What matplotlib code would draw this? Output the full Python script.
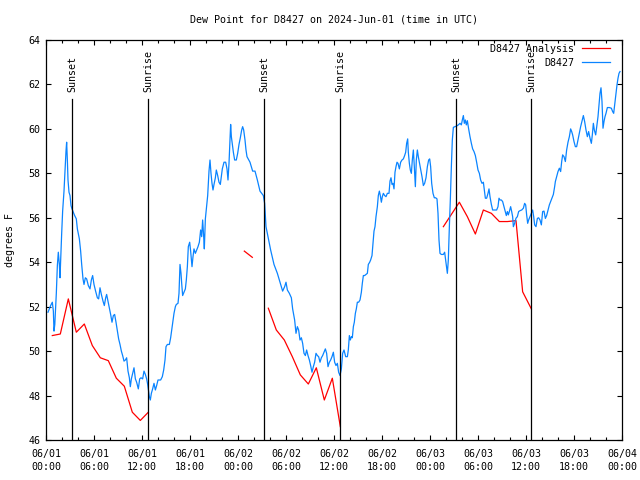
import numpy as np
import pandas as pd
import matplotlib
matplotlib.use('Agg')
import matplotlib.pyplot as plt
import matplotlib.dates as mdates

plt.rcParams['font.family'] = ['DejaVu Sans Mono']
plt.rcParams['font.size'] = 7.2

start = pd.Timestamp('2024-06-01 00:00')

# D8427 observations: hours after start, dew point (F)
obs_hours = [0.25, 0.58, 0.79, 0.92, 1.0, 1.1, 1.29, 1.42, 1.54, 1.67, 1.75, 1.83, 1.96, 2.08,
             2.25, 2.375, 2.5, 2.58, 2.67, 2.75, 2.875, 3.0, 3.125, 3.25, 3.42, 3.58, 3.79, 3.92,
             4.17, 4.33, 4.46, 4.625, 4.75, 4.92, 5.08, 5.29, 5.5, 5.67, 5.83, 6.0, 6.2, 6.42,
             6.58, 6.75, 6.92, 7.125, 7.29, 7.46, 7.58, 7.75, 7.92, 8.08, 8.25, 8.42, 8.58, 8.75,
             8.92, 9.08, 9.25, 9.42, 9.58, 9.75, 9.92, 10.08, 10.25, 10.42, 10.54, 10.67, 10.83,
             11.0, 11.17, 11.33, 11.54, 11.71, 11.875, 12.08, 12.25, 12.42, 12.58, 12.71,
             12.79, 12.92, 13.04, 13.17, 13.33, 13.5, 13.67, 13.83, 14.0, 14.33, 14.54, 14.71,
             14.875, 15.0, 15.17, 15.42, 15.58, 15.71, 15.875, 16.0, 16.17, 16.29, 16.5, 16.625,
             16.75, 16.875, 16.96, 17.08, 17.25, 17.42, 17.54, 17.67, 17.79, 17.96, 18.08, 18.25,
             18.375, 18.5, 18.67, 18.83, 19.0, 19.17, 19.33, 19.46, 19.58, 19.71, 19.79, 19.92,
             20.04, 20.21, 20.375, 20.5, 20.625, 20.75, 20.875, 21.0, 21.17, 21.29, 21.46, 21.625,
             21.79, 21.92, 22.04, 22.25, 22.46, 22.625, 22.75, 22.875, 23.0, 23.08, 23.17, 23.29,
             23.42, 23.58, 23.79, 23.96, 24.125, 24.29, 24.46, 24.58, 24.71, 24.875, 25.0, 25.125,
             25.5, 25.83, 26.125, 26.42, 26.75, 27.17, 27.33, 27.5, 27.75, 28.08, 28.5, 28.92,
             29.25, 29.58, 29.83, 30.0, 30.17, 30.42, 30.67, 30.83, 31.08, 31.25, 31.42, 31.58,
             31.75, 31.92, 32.08, 32.25, 32.42, 32.58, 32.75, 32.92, 33.08, 33.25, 33.42, 33.58,
             33.75, 33.92, 34.08, 34.25, 34.42, 34.58, 34.75, 34.92, 35.08, 35.25, 35.42, 35.58,
             35.75, 35.92, 36.08, 36.25, 36.42, 36.58, 36.75, 36.92, 37.08, 37.25, 37.46, 37.67,
             37.79, 37.92, 38.04, 38.17, 38.29, 38.42, 38.54, 38.67, 38.79, 38.92, 39.08, 39.25,
             39.42, 39.54, 39.67, 39.83, 40.17, 40.29, 40.46, 40.58, 40.75, 40.875, 41.0, 41.125,
             41.25, 41.42, 41.54, 41.67, 41.79, 41.92, 42.04, 42.17, 42.33, 42.5, 42.67, 42.875,
             43.0, 43.125, 43.25, 43.375, 43.5, 43.625, 43.75, 43.875, 44.0, 44.17, 44.33, 44.5,
             44.67, 44.83, 44.96, 45.08, 45.21, 45.29, 45.42, 45.54, 45.67, 45.79, 45.92, 46.04,
             46.17, 46.29, 46.42, 46.54, 46.67, 46.83, 47.0, 47.17, 47.33, 47.5, 47.67, 47.83,
             47.96, 48.08, 48.21, 48.375, 48.54, 48.71, 48.875, 49.0, 49.125, 49.25, 49.42, 49.67,
             49.83, 49.96, 50.08, 50.17, 50.29, 50.42, 50.54, 50.67, 50.79, 50.92, 51.125, 51.33,
             51.54, 51.75, 51.92, 52.04, 52.17, 52.29, 52.42, 52.54, 52.67, 52.83, 53.0, 53.17,
             53.33, 53.5, 53.67, 53.83, 54.0, 54.17, 54.33, 54.5, 54.67, 54.79, 54.92, 55.08,
             55.25, 55.375, 55.5, 55.67, 55.83, 56.08, 56.33, 56.5, 56.625, 56.75, 56.92, 57.08,
             57.25, 57.42, 57.54, 57.67, 57.79, 57.92, 58.08, 58.21, 58.33, 58.42, 58.58, 58.75,
             58.92, 59.08, 59.25, 59.46, 59.67, 59.83, 59.96, 60.08, 60.21, 60.33, 60.5, 60.67,
             60.83, 60.96, 61.08, 61.25, 61.42, 61.58, 61.75, 61.92, 62.08, 62.25, 62.42, 62.58,
             62.75, 62.92, 63.08, 63.25, 63.42, 63.58, 63.67, 63.83, 64.0, 64.17, 64.33, 64.46,
             64.58, 64.75, 64.92, 65.08, 65.25, 65.42, 65.58, 65.71, 65.83, 66.0, 66.17, 66.33,
             66.5, 66.67, 66.83, 67.0, 67.17, 67.33, 67.5, 67.67, 67.83, 68.0, 68.17, 68.29,
             68.42, 68.54, 68.71, 68.875, 69.0, 69.125, 69.25, 69.375, 69.5, 69.625, 69.75, 69.875,
             70.0, 70.17, 70.42, 70.67, 70.83, 70.96, 71.08, 71.25, 71.375, 71.5, 71.625, 71.75]
obs_vals = [51.75, 52.05, 52.2, 51.8, 50.9, 51.2, 52.6, 53.85, 54.45, 53.9, 53.3, 54.1, 55.3, 56.3,
            57.2, 58.1, 59.0, 59.4, 58.6, 57.7, 57.15, 57.0, 56.55, 56.4, 56.25, 56.1, 55.95, 55.5,
            55.05, 54.5, 53.9, 53.25, 53.0, 53.3, 53.25, 52.95, 52.8, 53.2, 53.4, 53.0, 52.7, 52.4,
            52.35, 52.85, 52.55, 52.25, 52.05, 52.4, 52.55, 52.25, 51.95, 51.65, 51.3, 51.6, 51.65, 51.3,
            50.9, 50.55, 50.3, 50.0, 49.8, 49.55, 49.6, 49.7, 49.1, 48.8, 48.4, 48.75, 49.0,
            49.25, 48.75, 48.6, 48.3, 48.75, 48.8, 48.75, 49.1, 48.95, 48.75, 48.5,
            48.3, 47.95, 47.8, 48.1, 48.3, 48.55, 48.25, 48.45, 48.7, 48.7, 48.85, 49.15,
            49.6, 50.2, 50.3, 50.3, 50.6, 50.95, 51.4, 51.7, 52.0, 52.1, 52.15, 52.6,
            53.9, 53.5, 53.05, 52.5, 52.65, 52.8, 53.2, 53.8, 54.7, 54.9, 54.5, 53.8,
            54.25, 54.6, 54.4, 54.55, 54.7, 54.9, 55.45, 55.15, 55.9, 55.15, 54.6, 55.95,
            56.4, 57.0, 58.1, 58.6, 58.0, 57.55, 57.25, 57.5, 57.8, 58.15, 57.9, 57.6,
            57.5, 57.85, 58.2, 58.5, 58.5, 58.2, 57.7, 58.45, 59.5, 60.2, 59.65, 59.3,
            58.95, 58.6, 58.6, 58.9, 59.3, 59.6, 59.95, 60.1, 59.95, 59.5, 59.05, 58.75,
            58.5, 58.1, 58.1, 57.7, 57.2, 57.0, 56.65, 55.6, 55.15, 54.55, 53.9, 53.5,
            53.1, 52.7, 52.9, 53.1, 52.75, 52.6, 52.4, 51.9, 51.4, 50.8, 51.1, 50.95,
            50.5, 50.6, 50.35, 49.9, 49.8, 50.05, 49.8, 49.6, 49.35, 49.05, 49.3, 49.5,
            49.9, 49.8, 49.75, 49.5, 49.7, 49.8, 49.95, 50.1, 49.9, 49.3, 49.5, 49.6,
            49.75, 49.95, 49.5, 49.35, 49.45, 49.05, 48.9, 49.2, 49.9, 50.05, 49.75, 49.75,
            50.05, 50.7, 50.5, 50.65, 50.6, 51.1, 51.3, 51.7, 51.9, 52.2, 52.2, 52.3,
            52.65, 53.05, 53.4, 53.4, 53.5, 53.9, 54.0, 54.1, 54.3, 54.85, 55.4, 55.6,
            56.05, 56.5, 57.0, 57.2, 57.0, 56.7, 56.95, 57.1, 57.0, 56.95, 57.1, 57.1,
            57.65, 57.8, 57.5, 57.55, 57.3, 58.05, 58.3, 58.5, 58.45, 58.2, 58.5, 58.6,
            58.65, 58.8, 58.95, 59.35, 59.55, 58.95, 58.45, 58.15, 58.0, 58.6, 59.05, 58.3,
            57.4, 58.6, 59.05, 58.75, 58.5, 58.2, 57.85, 57.45, 57.55, 57.8, 58.3, 58.6,
            58.65, 58.3, 57.55, 57.1, 56.9, 56.9, 56.85, 56.2, 55.0, 54.4, 54.35, 54.35,
            54.45, 54.1, 53.8, 53.5, 54.1, 55.6, 56.8, 58.3, 59.5, 60.07, 60.1, 60.13,
            60.18, 60.25, 60.18, 60.4, 60.6, 60.25, 60.4, 60.18, 60.37, 60.0, 59.65, 59.35,
            59.1, 58.98, 58.8, 58.5, 58.15, 58.0, 57.7, 57.55, 57.6, 57.25, 56.88, 56.88,
            57.1, 57.3, 56.95, 56.6, 56.35, 56.35, 56.35, 56.5, 56.88, 56.8, 56.8, 56.73,
            56.5, 56.28, 56.1, 56.28, 56.13, 56.28, 56.5, 56.28, 56.05, 55.6, 55.75, 55.98,
            56.05, 56.28, 56.32, 56.35, 56.43, 56.65, 56.58, 56.13, 55.75, 55.9, 56.05, 56.2,
            56.35, 56.05, 55.68, 55.6, 55.97, 56.0, 55.9, 55.68, 56.28, 56.3, 55.97, 56.1,
            56.35, 56.58, 56.73, 56.88, 57.05, 57.4, 57.63, 57.85, 58.08, 58.23, 58.08, 58.53,
            58.83, 58.75, 58.53, 59.05, 59.4, 59.65, 60.0, 59.88, 59.73, 59.43, 59.2, 59.2,
            59.5, 59.8, 60.1, 60.35, 60.6, 60.33, 59.95, 59.65, 59.88, 59.58, 59.35, 59.73,
            60.25, 59.95, 59.73, 60.18, 60.55, 61.08, 61.6, 61.85, 61.23, 60.03, 60.33, 60.55,
            60.7, 60.96, 60.96, 60.93, 60.78, 60.7, 61.08, 61.6, 61.98, 62.28, 62.5, 62.58]

# D8427 Analysis (gaps are NaN)
ana_hours = [0.79, 1.79, 2.79, 3.79, 4.79, 5.79, 6.79, 7.79, 8.79, 9.79, 10.79, 11.79, 12.79,
             18.0,
             24.79, 25.79,
             26.5,
             27.79, 28.79, 29.79, 30.79, 31.79, 32.79, 33.79, 34.79, 35.79, 36.79,
             43.0,
             49.67, 50.67, 51.67, 52.67, 53.67, 54.67, 55.67, 56.67, 57.67, 58.75, 59.58, 60.67]
ana_vals = [50.7, 50.77, 52.35, 50.85, 51.22, 50.25, 49.7, 49.57, 48.78, 48.42, 47.25, 46.88, 47.25,
            np.nan,
            54.5, 54.22,
            np.nan,
            51.93, 50.95, 50.5, 49.75, 48.93, 48.52, 49.25, 47.8, 48.78, 46.6,
            np.nan,
            55.6, 56.15, 56.7, 56.05, 55.27, 56.35, 56.2, 55.83, 55.83, 55.87, 52.67, 51.9]

sun_hours = [3.29, 12.79, 27.29, 36.79, 51.29, 60.66]
sun_labels = ['Sunset', 'Sunrise', 'Sunset', 'Sunrise', 'Sunset', 'Sunrise']

obs_t = start + pd.to_timedelta(obs_hours, unit='h')
ana_t = start + pd.to_timedelta(ana_hours, unit='h')
sun_t = start + pd.to_timedelta(sun_hours, unit='h')

fig = plt.figure(figsize=(6.4, 4.8), dpi=100)
ax = fig.add_axes([46/640, 40/480, 576/640, 400/480])

ax.plot(ana_t, ana_vals, color='#ff0000', lw=0.9, label='D8427 Analysis')
ax.plot(obs_t, obs_vals, color='#0a84ff', lw=0.9, label='D8427')

for t, lab in zip(sun_t, sun_labels):
    ax.plot([t, t], [46, 61.35], color='black', lw=0.9)
    ax.text(t, 61.65, lab, rotation=90, ha='center', va='bottom')

ax.set_xlim(start, start + pd.Timedelta(hours=72))
ax.set_ylim(46, 64)
ax.set_yticks(np.arange(46, 65, 2))
ax.xaxis.set_major_locator(mdates.HourLocator(byhour=[0, 6, 12, 18]))
ax.xaxis.set_minor_locator(mdates.HourLocator(interval=2))
ax.xaxis.set_major_formatter(mdates.DateFormatter('%m/%d\n%H:%M'))
ax.tick_params(which='both', direction='in', top=True, right=True, width=0.8)
ax.tick_params(which='major', length=3.5)
ax.tick_params(which='minor', length=2)
ax.tick_params(axis='x', pad=6.5)
ax.tick_params(axis='y', pad=4)
for lab in ax.get_xticklabels():
    lab.set_linespacing(1.4)
for s in ax.spines.values():
    s.set_linewidth(0.9)

ax.legend(loc='upper right', bbox_to_anchor=(1 - 12/576, 1 - 4/400), frameon=False,
          markerfirst=False, borderaxespad=0, borderpad=0, handlelength=2.8,
          handletextpad=0.8, labelspacing=0.4)

fig.text(334/640, 1 - 19/480, 'Dew Point for D8427 on 2024-Jun-01 (time in UTC)',
         ha='center', va='center')
fig.text(10/640, 0.5, 'degrees F', rotation=90, ha='center', va='center')

fig.savefig('out.png', dpi=100)
